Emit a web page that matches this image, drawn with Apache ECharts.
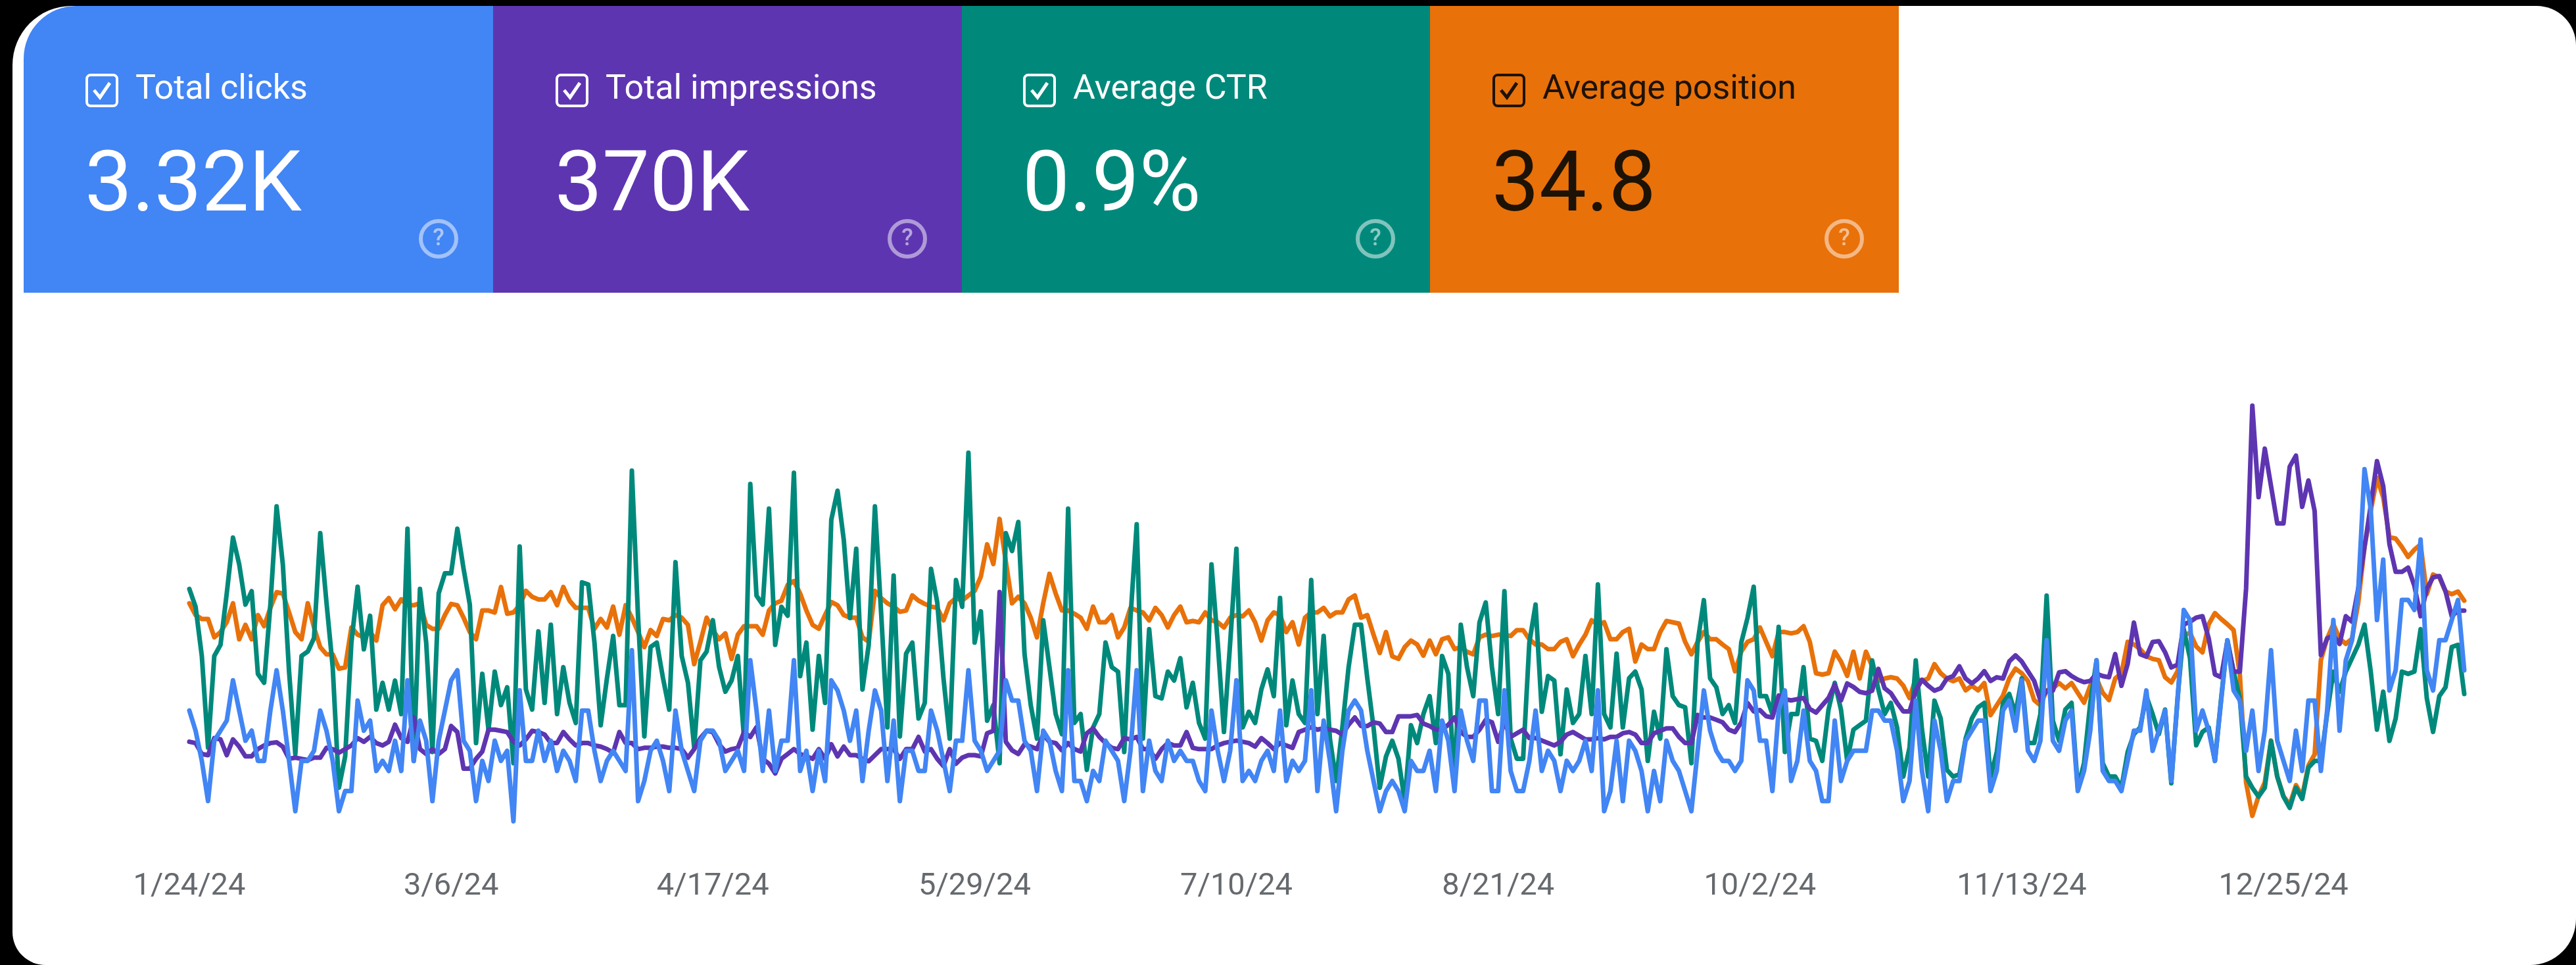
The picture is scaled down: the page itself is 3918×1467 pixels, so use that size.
<!DOCTYPE html>
<html>
<head>
<meta charset="utf-8">
<style>html,body{margin:0;padding:0;background:#000;}#c{width:3918px;height:1467px;}</style>
<script src="https://cdn.jsdelivr.net/npm/echarts@6/dist/echarts.min.js"></script>
</head>
<body>
<div id="c"></div>
<script>
// Daily Search Console metrics, starting on the date below.
const startDate = [2024, 0, 24];
const labelEvery = 42; // days between tick labels

const clicks = [
13,11,8,4,10,11,12,16,13,10,11,8,8,13,17,13,8,3,8,8,9,13,11,8,3,5,5,14,11,12,7,8,7,10,7,16,8,12,10,4,10,13,16,17,10,9,4,8,6,10,8,9,
2,15,8,8,11,8,10,7,9,8,6,13,13,9,6,8,9,8,7,19,4,6,9,10,8,5,13,9,7,5,10,11,11,10,7,8,9,7,18,13,7,13,7,10,10,18,7,9,5,9,6,16,15,
13,10,13,6,11,15,13,6,12,4,9,9,7,7,13,11,8,5,10,10,17,10,9,7,8,9,16,14,14,10,9,5,11,10,7,5,17,6,6,4,7,6,10,9,8,4,9,17,5,10,7,6,10,
8,9,8,8,6,5,13,9,6,9,16,6,7,6,8,9,7,13,6,8,7,8,15,5,12,8,3,9,13,14,13,9,6,3,5,6,5,3,8,7,7,9,5,12,10,5,13,10,8,14,14,5,
5,15,7,5,5,8,13,7,9,8,5,8,7,8,10,7,15,3,5,10,4,10,9,7,3,7,4,10,8,7,5,3,9,15,11,9,8,8,7,8,16,15,10,10,5,13,15,6,8,13,8,7,4,
4,12,6,8,9,9,9,13,13,12,12,9,4,6,14,7,3,12,9,4,6,6,10,11,12,12,5,7,13,14,11,16,9,8,10,20,10,9,12,13,5,7,11,18,7,6,6,5,8,11,11,15,9,
11,13,6,14,23,22,11,13,11,8,14,20,15,14,9,13,7,11,19,10,8,6,11,7,14,14,7,13,22,11,18,20,25,37,33,22,28,15,17,24,24,23,30,17,15,20,20,22,24,17
];
const impressions = [
1003,990,880,868,1040,1027,868,1027,954,856,856,929,966,990,998,954,831,843,831,819,843,843,942,929,893,929,966,1040,1003,1052,990,966,1003,1175,1040,1003,1248,929,880,929,880,929,1162,1101,733,733,831,905,1125,1125,1113,1101,
1003,966,1027,1113,1101,1076,990,990,1101,1027,966,990,990,966,954,929,893,1101,990,990,929,942,942,954,954,942,942,929,843,929,1040,1113,1101,978,905,929,942,1101,1052,1150,831,782,684,831,880,929,880,856,831,929,831,978,856,
954,868,868,831,807,868,929,929,929,831,929,929,1052,905,929,831,758,929,782,843,868,868,856,1089,1113,2511,1003,917,880,978,954,929,1076,1003,990,917,990,929,905,1089,1138,1052,990,942,929,1040,1027,1052,929,929,831,929,990,
966,966,1101,942,929,929,929,966,990,1003,1015,1003,990,954,1040,990,929,990,966,942,1101,1125,1150,1125,1138,1125,1113,1076,1175,1248,1162,1162,1199,1187,1101,1101,1260,1260,1260,1273,1187,1162,1125,1125,1175,1248,1101,1052,1052,1125,1224,1199,
1003,1199,1052,1089,1125,1040,1040,1015,990,966,1003,1076,1101,1064,1027,1027,1040,1027,1052,1052,1089,1101,1076,990,990,1089,1113,1138,1138,1052,990,990,1273,1248,1248,1224,1199,1125,1101,1199,1395,1309,1322,1260,1248,1469,1432,1420,1432,1444,1334,1297,1371,
1444,1579,1420,1591,1555,1506,1493,1518,1738,1542,1493,1395,1309,1309,1518,1628,1567,1518,1542,1640,1665,1763,1640,1591,1640,1714,1616,1653,1640,1812,1873,1812,1714,1616,1420,1518,1518,1702,1714,1665,1628,1604,1616,1689,1665,1653,1886,1567,1787,2204,1886,1861,2008,
2017,1906,1752,1780,2185,2212,2254,2268,2045,1682,1654,2017,1710,1710,2547,4389,3468,3956,3580,3203,3203,3775,3886,3370,3635,3328,1878,2045,2073,1989,2268,2212,2547,2966,3384,3831,3580,2994,2715,2715,2757,2575,2268,2547,2659,2673,2519,2268,2324,2324
];
const ctr = [
1.13,1.05,.83,.42,.83,.88,1.11,1.36,1.24,1.06,1.12,.75,.71,1.06,1.50,1.24,.76,.39,.83,.85,.91,1.38,1.07,.78,.24,.38,.89,1.14,.86,1.01,.59,.71,.59,.72,.57,1.40,.36,1.13,.89,.40,1.11,1.20,1.20,1.40,1.22,1.06,.44,.75,.50,.76,.61,.69,
.35,1.32,.68,.59,.94,.62,.97,.57,.78,.62,.53,1.16,1.15,.89,.52,.73,.92,.61,.61,1.66,1.0,.47,.87,.89,.73,.59,1.25,.83,.71,.42,.81,.85,.99,.78,.67,.72,.83,.46,1.60,1.10,1.06,1.49,.88,1.05,1.01,1.65,.74,.89,.50,.83,.62,1.44,1.57,
1.35,1.0,1.31,.68,.88,1.50,1.02,.51,1.19,.47,.84,.89,.55,.62,1.22,1.07,.73,.46,1.17,1.05,1.74,.89,1.03,.54,.61,.35,1.38,1.30,1.43,.84,.61,.46,.99,.78,.57,.48,1.49,.53,.57,.32,.51,.57,.89,.78,.76,.40,1.0,1.42,.46,.95,.65,.64,.76,
.72,.82,.60,.71,.53,.46,1.24,.89,.49,.89,1.31,.51,.58,.53,.68,.77,.65,1.09,.52,.72,.57,.53,1.17,.57,.92,.46,.27,.51,.78,.97,.97,.73,.51,.24,.38,.45,.37,.18,.52,.44,.57,.65,.44,.83,.75,.24,.97,.78,.65,.98,1.07,.78,
.57,1.12,.46,.37,.37,.89,1.06,.58,.74,.72,.39,.68,.53,.57,.83,.57,1.15,.57,.51,.84,.51,.73,.76,.68,.36,.58,.46,.86,.65,.61,.60,.35,.89,1.08,.73,.69,.57,.61,.53,.89,1.00,1.14,.65,.65,.57,.96,.40,.57,.57,.78,.46,.45,.36,
.59,.71,.59,.36,.50,.52,.54,.81,.68,.57,.62,.51,.29,.42,.81,.50,.29,.63,.55,.32,.29,.30,.46,.55,.60,.62,.29,.40,.62,.66,.57,.73,.44,.44,.57,1.10,.54,.45,.59,.62,.24,.35,.62,.81,.35,.29,.29,.24,.40,.48,.51,.65,.57,
.48,.59,.26,.64,.95,.82,.43,.49,.51,.36,.64,.90,.76,.64,.29,.24,.20,.24,.45,.29,.20,.15,.24,.19,.33,.36,.36,.57,.76,.67,.76,.82,.88,.97,.76,.50,.67,.45,.55,.76,.75,.76,.95,.64,.49,.65,.69,.87,.88,.66
];
const position = [
31.9,33.7,34.3,34.3,37.1,36.3,34.8,31.9,37.4,35.2,37.4,33.7,35.4,32.6,30.2,30.4,33.3,36.3,37.4,31.9,35.6,38.6,39.7,39.7,41.9,41.7,35.6,36.7,37.1,36.3,37.6,32.2,31.1,32.8,31.3,32.2,32.2,31.9,35.2,35.8,35.8,33.7,32.0,32.2,34.1,36.3,37.4,33.0,33.0,33.3,29.4,33.5,
33.3,32.2,30.0,30.9,31.3,31.3,30.2,32.2,29.4,31.5,32.6,32.6,32.6,35.8,34.3,35.6,32.4,36.7,32.2,34.1,36.3,38.6,36.0,36.9,34.3,34.5,33.7,34.1,35.2,41.2,37.8,34.1,36.0,37.4,36.5,40.4,36.7,35.4,35.4,35.4,36.7,33.0,31.9,31.5,29.1,28.5,30.4,33.0,35.2,35.8,33.7,31.7,32.2,
33.7,34.1,34.1,37.1,37.8,30.0,31.1,31.9,32.4,33.2,33.0,30.7,31.5,32.0,32.4,32.6,34.5,31.9,31.1,31.5,30.7,30.0,27.8,22.9,25.9,19.0,25.5,31.9,30.9,31.9,34.1,37.1,31.9,27.4,30.4,33.0,33.0,33.5,34.1,35.8,32.4,34.8,34.8,33.7,37.1,35.6,32.6,33.0,33.3,34.5,32.6,33.7,35.6,
33.7,32.4,34.8,34.6,34.8,33.3,34.5,34.8,35.6,34.1,33.7,33.9,33.0,34.8,37.6,34.5,33.3,33.7,36.3,34.8,38.2,34.1,33.3,33.3,32.6,33.9,33.3,33.3,31.3,30.7,34.1,33.7,36.7,39.5,36.3,40.0,40.4,38.6,37.6,38.2,39.9,37.6,39.7,37.4,37.1,38.9,38.6,39.3,39.7,37.1,36.7,36.9,
36.7,36.7,36.9,36.0,36.0,37.4,38.2,38.2,38.9,38.9,37.8,37.4,40.0,38.2,36.7,34.5,35.2,34.8,37.4,37.4,36.3,35.8,40.8,38.2,38.9,38.9,36.3,34.6,34.8,35.0,37.8,39.7,37.8,36.3,37.4,37.4,38.2,38.9,42.3,39.3,37.8,37.4,35.6,37.8,40.0,36.3,36.3,36.5,36.3,35.4,37.8,42.6,42.8,
42.6,39.3,40.8,43.0,39.3,43.4,39.3,41.5,43.8,43.4,43.2,43.4,44.5,46.4,43.4,43.8,43.4,41.2,42.6,43.4,43.8,43.4,45.2,44.5,45.2,44.1,49.0,47.5,46.0,43.4,41.9,42.6,43.8,46.7,47.5,45.2,44.9,44.1,44.9,44.1,45.6,47.1,44.5,43.4,45.6,46.7,43.4,42.6,37.8,38.2,38.9,40.0,40.4,
40.6,43.2,44.0,42.3,36.8,36.4,38.5,39.4,35.1,33.4,34.3,35.1,36.0,42.8,59.3,64.4,61.4,59.3,52.9,58.4,61.4,62.7,59.7,61.4,56.7,55.0,40.6,37.3,35.1,37.3,38.1,37.3,31.8,23.3,17.8,12.7,15.7,21.8,22.0,23.3,24.8,23.7,22.9,30.5,27.5,27.9,30.1,30.5,30.1,31.5
];

// Tiles above the chart
const tileNames = ['Total clicks', 'Total impressions', 'Average CTR', 'Average position'];
const tileValues = ['3.32K', '370K', '0.9%', '34.8'];
const tileColors = ['#4285F4', '#5E35B1', '#00897B', '#E8710A'];
const tileInk = ['#fff', '#fff', '#fff', '#1d1206'];

const categories = [];
{
  const d = new Date(startDate[0], startDate[1], startDate[2]);
  for (let i = 0; i < clicks.length; i++) {
    categories.push((d.getMonth() + 1) + '/' + d.getDate() + '/' + String(d.getFullYear()).slice(2));
    d.setDate(d.getDate() + 1);
  }
}

const font = 'Roboto, sans-serif';
const tileLefts = [36, 750, 1463, 2175];
const tileRights = [750, 1463, 2175, 2888];
const contentX = [130, 845, 1556, 2270];
const helpX = [667, 1380, 2092, 2805];

const graphics = [{
  type: 'rect', z: -10, silent: true,
  shape: { x: 19, y: 9, width: 3899, height: 1458, r: [90, 60, 70, 50] },
  style: { fill: '#fff' }
}];
tileNames.forEach((name, i) => {
  const x = contentX[i], ink = tileInk[i];
  graphics.push(
    { type: 'rect', z: -5, silent: true,
      shape: { x: tileLefts[i], y: 9, width: tileRights[i] - tileLefts[i], height: 436, r: i === 0 ? [80, 0, 0, 0] : 0 },
      style: { fill: tileColors[i] } },
    { type: 'rect', z: -4, silent: true,
      shape: { x: x + 2, y: 114, width: 46, height: 47, r: 6 },
      style: { fill: 'transparent', stroke: ink, lineWidth: 4 } },
    { type: 'polyline', z: -4, silent: true,
      shape: { points: [[x + 13, 137], [x + 22, 148], [x + 37, 126]] },
      style: { fill: 'none', stroke: ink, lineWidth: 5 } },
    { type: 'text', z: -4, silent: true,
      style: { x: x + 76, y: 137, text: name, font: '400 52px ' + font, fill: ink, textVerticalAlign: 'middle', textAlign: 'left' } },
    { type: 'text', z: -4, silent: true,
      style: { x: x - 1, y: 288, text: tileValues[i], font: '400 128px ' + font, fill: ink, textVerticalAlign: 'middle', textAlign: 'left' } },
    { type: 'circle', z: -4, silent: true,
      shape: { cx: helpX[i], cy: 363, r: 27 },
      style: { fill: 'transparent', stroke: 'rgba(255,255,255,0.5)', lineWidth: 6 } },
    { type: 'text', z: -4, silent: true,
      style: { x: helpX[i], y: 364, text: '?', font: '500 36px ' + font, fill: 'rgba(255,255,255,0.55)', textVerticalAlign: 'middle', textAlign: 'center' } }
  );
});

function hiddenAxis(min, max, inverse) {
  return { type: 'value', show: false, min, max, inverse: !!inverse, scale: false, splitLine: { show: false } };
}
function line(name, data, axis, color) {
  return {
    name, type: 'line', data, yAxisIndex: axis, showSymbol: false, smooth: false, silent: true,
    lineStyle: { color, width: 7, cap: 'round', join: 'round' }, itemStyle: { color }
  };
}

const chart = echarts.init(document.getElementById('c'), null, { renderer: 'canvas', width: 3918, height: 1467 });
chart.setOption({
  animation: false,
  backgroundColor: '#000',
  grid: { left: 288, width: 3460, top: 600, height: 679, containLabel: false },
  graphic: { elements: graphics },
  xAxis: {
    type: 'category', data: categories, boundaryGap: false,
    axisLine: { show: false }, axisTick: { show: false }, splitLine: { show: false },
    axisLabel: {
      interval: labelEvery - 1, margin: 46, fontFamily: font, fontSize: 47, color: '#666a6e', hideOverlap: false
    }
  },
  yAxis: [hiddenAxis(0, 44.4), hiddenAxis(0, 4500), hiddenAxis(0, 2), hiddenAxis(0, 68.3, true)],
  series: [
    line('Average position', position, 3, tileColors[3]),
    line('Average CTR', ctr, 2, tileColors[2]),
    line('Total impressions', impressions, 1, tileColors[1]),
    line('Total clicks', clicks, 0, tileColors[0])
  ]
});
</script>
</body>
</html>
